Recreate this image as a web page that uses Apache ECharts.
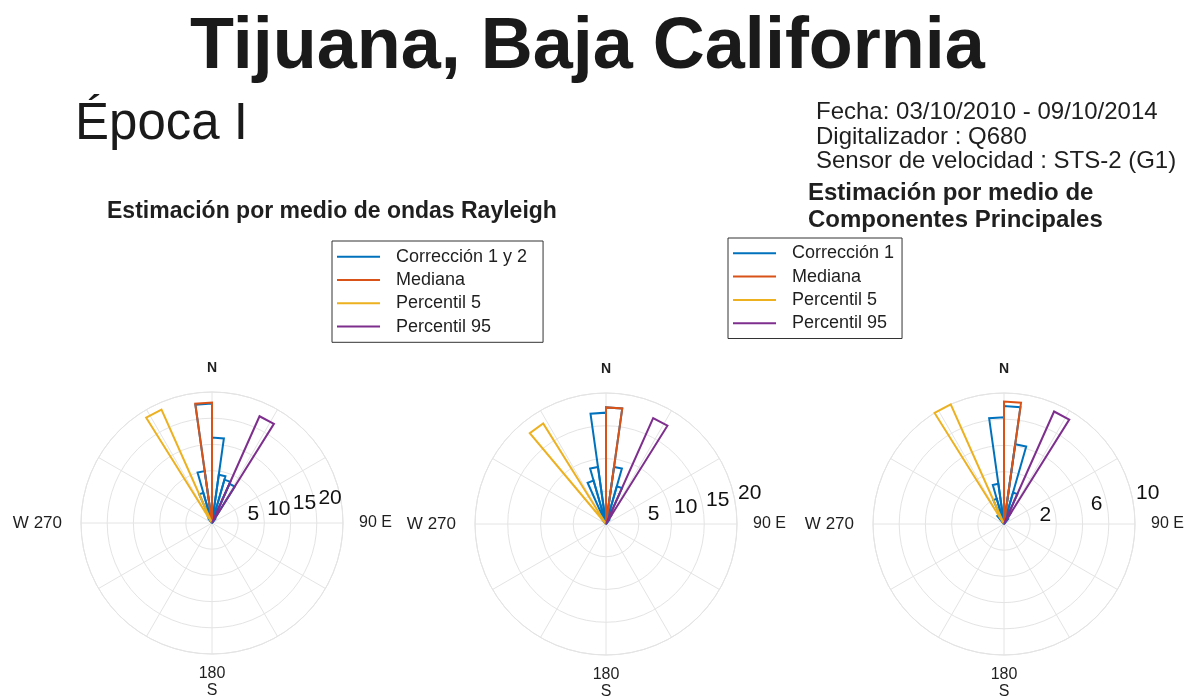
<!DOCTYPE html>
<html>
<head>
<meta charset="utf-8">
<script src="https://cdn.jsdelivr.net/npm/echarts@6/dist/echarts.min.js"></script>
<style>
html,body{margin:0;padding:0;background:#fff;}
#chart{width:1197px;height:696px;}
</style>
</head>
<body>
<div id="chart"></div>
<script>
// ---------- data ----------
const BIN_CENTERS = [-44, -36, -28, -20, -12, -4, 4, 12, 20, 28, 36]; // degrees clockwise from N
const BIN_WIDTH = 8;

// Plot 1 (Rayleigh)
const R1_CORR = [0, 1.0, 1.5, 6.0, 10.0, 22.8, 16.3, 9.3, 8.6, 8.2, 1.0];
const R1_MED  = [0, 0, 0, 0, 0, 23.0, 0, 0, 0, 0, 0];
const R1_P5   = [0, 0, 23.7, 0, 0, 0, 0, 0, 0, 0, 0];
const R1_P95  = [0, 0, 0, 0, 0, 0, 0, 0, 0, 22.3, 0];

// Plot 2 (Rayleigh)
const R2_CORR = [0, 1.0, 1.5, 6.9, 8.8, 17.0, 17.8, 8.8, 6.0, 1.5, 0.8];
const R2_MED  = [0, 0, 0, 0, 0, 0, 17.8, 0, 0, 0, 0];
const R2_P5   = [0, 18.1, 0, 0, 0, 0, 0, 0, 0, 0, 0];
const R2_P95  = [0, 0, 0, 0, 0, 0, 0, 0, 0, 17.7, 0];

// Plot 3 (Componentes Principales)
const C_CORR = [0, 0.8, 0.8, 2.0, 3.1, 8.15, 9.0, 6.15, 2.5, 1.0, 0.5];
const C_MED  = [0, 0, 0, 0, 0, 0, 9.35, 0, 0, 0, 0];
const C_P5   = [0, 0, 10.0, 0, 0, 0, 0, 0, 0, 0, 0];
const C_P95  = [0, 0, 0, 0, 0, 0, 0, 0, 0, 9.4, 0];

const NAMES_R = ['Corrección 1 y 2', 'Mediana', 'Percentil 5', 'Percentil 95'];
const NAMES_C = ['Corrección 1', 'Mediana', 'Percentil 5', 'Percentil 95'];

const RADIUS_MAX = [25, 20, 10];
const RADIUS_STEP = [5, 5, 2];
const RADIAL_TICKS = [[5, 10, 15, 20], [5, 10, 15, 20], [2, 6, 10]];
const RADIAL_LABEL_ANGLE = 78;

const COMPASS_ANGLES = [0, 90, 180, 270];
const COMPASS_LABELS = ['{n|N}', '{e|90 E}', '{s|180}\n{s|S}', '{w|W 270}'];

// ---------- style ----------
const COLORS = ['#0072BD', '#D95319', '#EDB120', '#7E2F8E'];
const CENTERS = [[212, 523], [606, 524], [1004, 524]];
const R_PX = 131;
const FONT = "'Liberation Sans', Arial, Helvetica, sans-serif";
const GRID = '#e4e4e4';
const TXT = '#1f1f1f';

function toData(vals) {
  const out = [];
  BIN_CENTERS.forEach((a, i) => { if (vals[i] > 0) out.push([vals[i], (a + 360) % 360]); });
  return out;
}

function wedgeRenderer(color) {
  return function (params, api) {
    const r = api.value(0), a = api.value(1);
    const c0 = api.coord([0, a]).slice(0, 2);
    const p1 = api.coord([r, a - BIN_WIDTH / 2]).slice(0, 2);
    const p2 = api.coord([r, a + BIN_WIDTH / 2]).slice(0, 2);
    return {
      type: 'polygon',
      shape: { points: [c0, p1, p2] },
      style: { fill: 'none', stroke: color, lineWidth: 2, lineJoin: 'miter' }
    };
  };
}

const polar = CENTERS.map(c => ({ center: c, radius: R_PX }));
const angleAxis = CENTERS.map((c, i) => ({
  polarIndex: i, type: 'value', min: 0, max: 360, interval: 30,
  startAngle: 90, clockwise: true,
  axisLine: { show: true, lineStyle: { color: GRID, width: 1 } },
  axisTick: { show: false },
  splitLine: { show: true, lineStyle: { color: GRID, width: 1 } },
  axisLabel: {
    show: true, margin: 10, color: TXT, fontFamily: FONT,
    formatter: v => { const k = COMPASS_ANGLES.indexOf(v); return k >= 0 ? COMPASS_LABELS[k] : ''; },
    rich: {
      n: { fontSize: 14, fontWeight: 'bold', color: TXT, fontFamily: FONT, padding: [0, 0, 7, 0] },
      e: { fontSize: 16, color: TXT, fontFamily: FONT, padding: [0, 0, 0, 6] },
      s: { fontSize: 16, color: TXT, fontFamily: FONT, lineHeight: 17, padding: [2, 0, 0, 0] },
      w: { fontSize: 17, color: TXT, fontFamily: FONT, padding: [0, 9, 0, 0] }
    }
  }
}));
const radiusAxis = CENTERS.map((c, i) => ({
  polarIndex: i, type: 'value', min: 0, max: RADIUS_MAX[i], interval: RADIUS_STEP[i],
  axisLine: { show: false }, axisTick: { show: false }, axisLabel: { show: false },
  splitLine: { show: true, lineStyle: { color: GRID, width: 1 } }
}));

const groups = [
  { names: NAMES_R, vals: [R1_CORR, R1_MED, R1_P5, R1_P95] },
  { names: NAMES_R, vals: [R2_CORR, R2_MED, R2_P5, R2_P95] },
  { names: NAMES_C, vals: [C_CORR, C_MED, C_P5, C_P95] }
];

const series = [];
groups.forEach((g, pi) => {
  g.vals.forEach((v, si) => {
    series.push({
      type: 'custom', name: g.names[si], coordinateSystem: 'polar', polarIndex: pi,
      itemStyle: { color: COLORS[si] },
      renderItem: wedgeRenderer(COLORS[si]),
      data: toData(v), silent: true, z: 3 + si
    });
  });
  series.push({
    type: 'scatter', coordinateSystem: 'polar', polarIndex: pi, symbolSize: 0, silent: true,
    itemStyle: { color: '#000', opacity: 1 },
    data: RADIAL_TICKS[pi].map(v => [v, RADIAL_LABEL_ANGLE]),
    label: { show: true, position: 'inside', offset: [15.6, -3.3], formatter: p => String(p.value[0]),
      fontSize: 21, color: '#111', opacity: 1, fontFamily: FONT, textBorderWidth: 0 },
    z: 10
  });
});

const legendCommon = {
  orient: 'vertical', itemWidth: 43, itemHeight: 2, itemGap: 3.3, icon: 'rect',
  borderColor: '#333', borderWidth: 1, selectedMode: false,
  textStyle: { fontSize: 18, lineHeight: 20, color: TXT, fontFamily: FONT, padding: [0, 0, 0, 11] }
};

const option = {
  backgroundColor: '#fff',
  animation: false,
  title: [
    { text: 'Tijuana, Baja California', left: 190, top: 12, padding: 0,
      textStyle: { fontSize: 72, fontWeight: 'bold', color: '#1a1a1a', fontFamily: FONT, lineHeight: 72 } },
    { text: 'Época I', left: 75, top: 99, padding: 0,
      textStyle: { fontSize: 51, fontWeight: 'normal', color: '#1a1a1a', fontFamily: FONT, lineHeight: 51 } },
    { text: 'Fecha: 03/10/2010 - 09/10/2014\nDigitalizador : Q680\nSensor de velocidad : STS-2 (G1)', left: 816, top: 100, padding: 0,
      textStyle: { fontSize: 24, fontWeight: 'normal', color: TXT, fontFamily: FONT, lineHeight: 24.7 } },
    { text: 'Estimación por medio de ondas Rayleigh', left: 107, top: 200, padding: 0,
      textStyle: { fontSize: 23, fontWeight: 'bold', color: TXT, fontFamily: FONT, lineHeight: 23 } },
    { text: 'Estimación por medio de\nComponentes Principales', left: 808, top: 180, padding: 0,
      textStyle: { fontSize: 24, fontWeight: 'bold', color: TXT, fontFamily: FONT, lineHeight: 26.6 } }
  ],
  legend: [
    Object.assign({}, legendCommon, { data: NAMES_R, left: 332, top: 241, padding: [5.7, 16, 5.7, 5] }),
    Object.assign({}, legendCommon, { data: NAMES_C, left: 728, top: 238, padding: [5.3, 8, 5.3, 5] })
  ],
  polar: polar,
  angleAxis: angleAxis,
  radiusAxis: radiusAxis,
  series: series
};

const chart = echarts.init(document.getElementById('chart'), null, { renderer: 'canvas' });
chart.setOption(option);
</script>
</body>
</html>
